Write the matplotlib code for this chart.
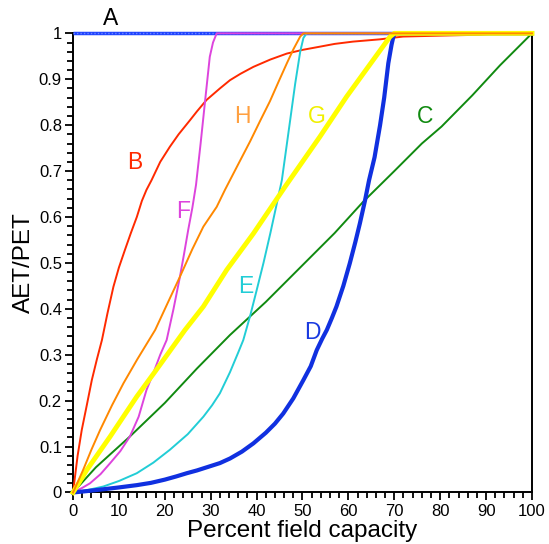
import matplotlib
matplotlib.use("Agg")
import matplotlib.pyplot as plt
from matplotlib.ticker import MultipleLocator

plt.rcParams['font.family'] = ['Liberation Sans', 'DejaVu Sans']

# Curve data (percent field capacity, AET/PET)
a_x = [0, 100]
a_y = [1.0, 1.0]

b_x = [0, 0.5, 1.0, 1.9, 3.0, 4.1, 5.2, 6.3, 7.5, 8.8, 10.0, 11.3, 12.6, 13.9, 15.0, 16.0, 17.1, 19.0, 21.1, 23.0,
       25.5, 27.0, 29.1, 32.0, 34.2, 36.5, 39.3, 43.0, 46.6, 50.0, 53.8, 57.0, 61.0, 66.9, 71.9, 80.0, 88.7, 92.0, 100]
b_y = [0, 0.04, 0.08, 0.136, 0.19, 0.245, 0.29, 0.332, 0.39, 0.448, 0.49, 0.528, 0.565, 0.600, 0.635, 0.659, 0.680, 0.72,
       0.753, 0.78, 0.811, 0.83, 0.855, 0.880, 0.898, 0.912, 0.927, 0.943, 0.956, 0.964, 0.971, 0.977, 0.982, 0.987, 0.993,
       0.995, 0.997, 1.0, 1.0]

c_x = [0, 5, 12.4, 20, 27, 34.2, 42, 50, 57, 63.2, 70, 76, 80.3, 87, 93, 100]
c_y = [0, 0.055, 0.122, 0.195, 0.27, 0.343, 0.415, 0.495, 0.565, 0.633, 0.70, 0.76, 0.797, 0.865, 0.93, 1.0]

d_x = [0, 3, 6.6, 10, 13.9, 17, 20, 22.5, 24.8, 27, 29.5, 32.0, 34.2, 36.8, 39.3, 42, 44, 45.8, 48, 50.2, 51.8, 53.1,
       54.3, 55.3, 56.4, 57.4, 58.9, 60.3, 61.5, 62.5, 63.6, 64.5, 65.7, 66.9, 67.8, 68.7, 69.4, 69.8, 70.2, 100]
d_y = [0, 0.003, 0.007, 0.011, 0.016, 0.021, 0.028, 0.035, 0.042, 0.048, 0.056, 0.064, 0.074, 0.089, 0.107, 0.13, 0.15,
       0.172, 0.205, 0.245, 0.275, 0.31, 0.335, 0.354, 0.38, 0.405, 0.45, 0.499, 0.545, 0.586, 0.635, 0.68, 0.73, 0.80,
       0.86, 0.935, 0.975, 0.993, 1.0, 1.0]

e_x = [0, 3, 6.6, 10, 13.9, 17.5, 21.1, 25, 28.4, 30.3, 32.0, 34.2, 36.0, 37.1, 38.6, 40.0, 41.5, 43.0, 44.2, 45.5,
       46.4, 47.3, 48.4, 49.5, 50.2, 50.9, 100]
e_y = [0, 0.005, 0.013, 0.025, 0.042, 0.065, 0.093, 0.127, 0.165, 0.19, 0.216, 0.262, 0.305, 0.332, 0.385, 0.44, 0.50,
       0.565, 0.62, 0.68, 0.745, 0.81, 0.89, 0.96, 0.99, 1.0, 1.0]

f_x = [0, 2, 3.7, 6, 8.1, 10.3, 12.4, 14.3, 16.0, 17.5, 19, 20.4, 21.9, 23.3, 24.2, 25.1, 26.0, 26.8, 27.8, 28.8, 29.8,
       30.5, 31.3, 100]
f_y = [0, 0.01, 0.020, 0.04, 0.064, 0.09, 0.122, 0.165, 0.223, 0.26, 0.30, 0.332, 0.40, 0.470, 0.52, 0.572, 0.62, 0.67,
       0.76, 0.855, 0.949, 0.98, 1.0, 1.0]

g_x = [0, 3.0, 8.1, 13.9, 18, 24.4, 28.4, 33.5, 39.3, 46.2, 53.8, 59.6, 65.4, 69.1, 70.0, 100]
g_y = [0, 0.049, 0.122, 0.209, 0.265, 0.354, 0.405, 0.485, 0.564, 0.666, 0.775, 0.862, 0.942, 0.993, 1.0, 1.0]

h_x = [0, 1, 2.2, 4, 5.9, 8.5, 11.0, 14, 17.9, 20.5, 23.3, 26, 28.4, 31.3, 33.1, 36, 38.6, 40.8, 42.9, 44.8, 46.6, 48,
       49.5, 50.2, 100]
h_y = [0, 0.022, 0.049, 0.093, 0.136, 0.19, 0.238, 0.29, 0.354, 0.41, 0.470, 0.53, 0.579, 0.622, 0.659, 0.715, 0.765,
       0.81, 0.852, 0.895, 0.935, 0.965, 0.993, 1.0, 1.0]

labels = ["A", "B", "C", "D", "E", "F", "G", "H"]
label_x = [8.1, 13.5, 76.7, 52.1, 37.7, 24.0, 53.2, 36.8]
label_y = [1.032, 0.718, 0.818, 0.348, 0.448, 0.611, 0.818, 0.818]

fig = plt.figure(figsize=(5.49, 5.44), dpi=100)
ax = fig.add_axes([0.133, 0.0947, 0.836, 0.844])

ax.plot(a_x, a_y, color='#1f44ff', lw=2.5, solid_capstyle='butt', clip_on=False, zorder=3)
ax.plot(a_x, a_y, color='#6f86ff', lw=1.0, ls=(0, (1, 1.5)), clip_on=False, zorder=3)
ax.plot(c_x, c_y, color='#108a10', lw=1.4, clip_on=False, zorder=4)
ax.plot(b_x, b_y, color='#ff2a00', lw=1.4, clip_on=False, zorder=4)
ax.plot(e_x, e_y, color='#22cdd6', lw=1.4, clip_on=False, zorder=4)
ax.plot(f_x, f_y, color='#dd44dd', lw=1.4, clip_on=False, zorder=4)
ax.plot(d_x, d_y, color='#1030e0', lw=3.0, clip_on=False, zorder=4)
ax.plot(g_x, g_y, color='#ffff00', lw=3.5, clip_on=False, zorder=5)
ax.plot(h_x, h_y, color='#ff8800', lw=1.4, clip_on=False, zorder=6)

label_colors = ['black', '#ff2a00', '#108a10', '#1a3ae0', '#22cdd6', '#dd44dd', '#f0f000', '#ffa040']
for t, x, y, c in zip(labels, label_x, label_y, label_colors):
    ax.text(x, y, t, color=c, fontsize=16.5, ha='center', va='center', clip_on=False)

ax.set_xlim(0, 100)
ax.set_ylim(0, 1)
ax.xaxis.set_major_locator(MultipleLocator(10))
ax.xaxis.set_minor_locator(MultipleLocator(2))
ax.yaxis.set_major_locator(MultipleLocator(0.1))
ax.yaxis.set_minor_locator(MultipleLocator(0.02))
ax.set_yticks([0, 0.1, 0.2, 0.3, 0.4, 0.5, 0.6, 0.7, 0.8, 0.9, 1.0])
ax.set_yticklabels(['0', '0.1', '0.2', '0.3', '0.4', '0.5', '0.6', '0.7', '0.8', '0.9', '1'])
ax.tick_params(which='major', direction='out', length=6, width=1.3, labelsize=12, pad=2)
ax.tick_params(which='minor', direction='out', length=4, width=1.3)
ax.tick_params(right=False, top=False)
ax.spines['top'].set_visible(False)
for s in ['left', 'bottom', 'right']:
    ax.spines[s].set_linewidth(1.4)

ax.set_xlabel('Percent field capacity', fontsize=17.5, labelpad=1)
ax.set_ylabel('AET/PET', fontsize=17.5, labelpad=3)

fig.savefig('out.png', dpi=100)
